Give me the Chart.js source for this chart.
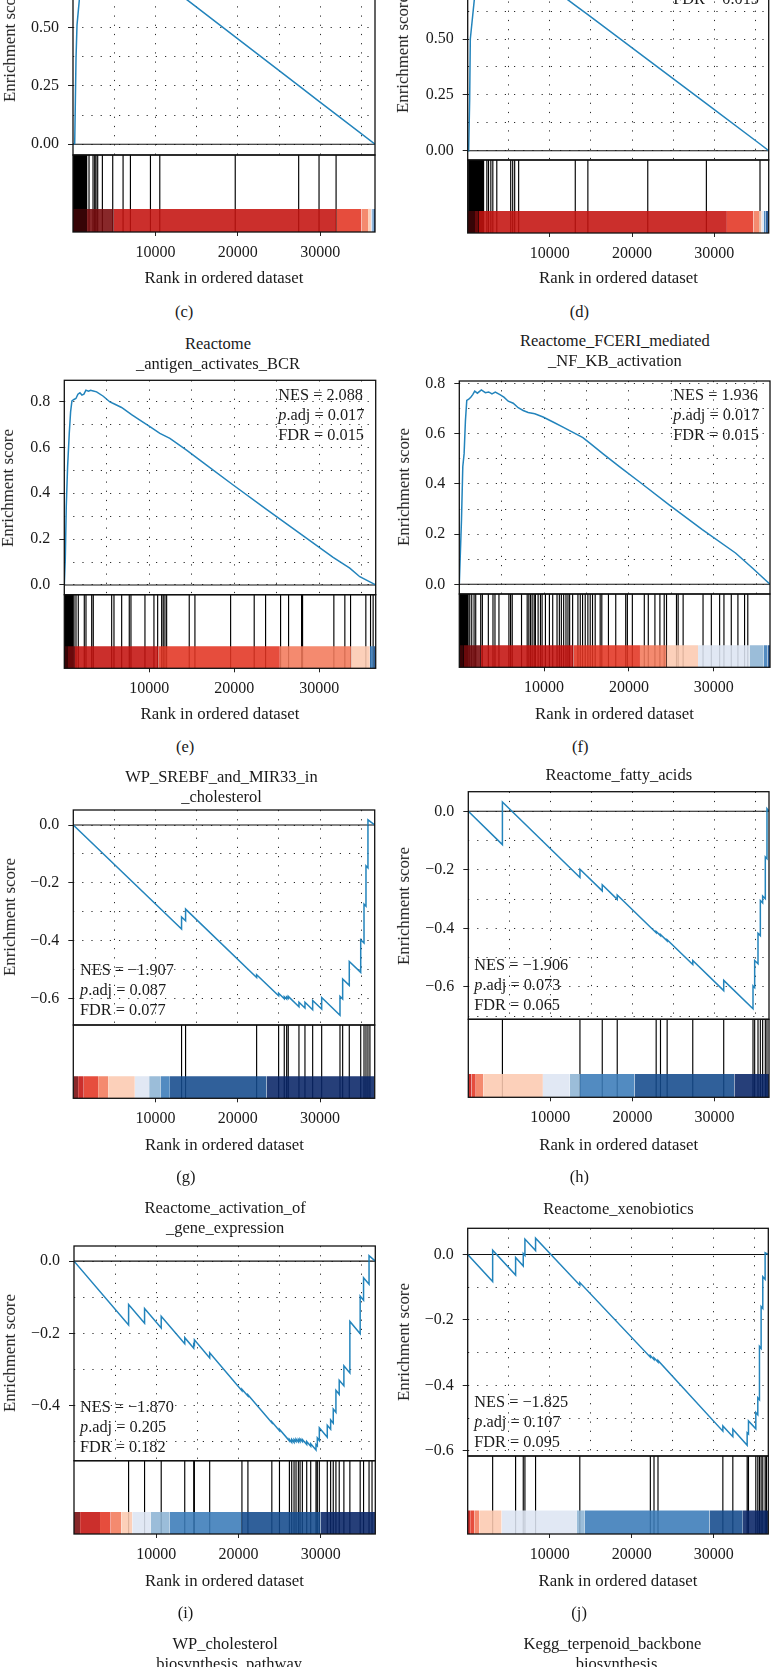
<!DOCTYPE html>
<html><head><meta charset="utf-8">
<script src="https://cdn.jsdelivr.net/npm/chart.js@4.4.1/dist/chart.umd.min.js"></script>
<style>
html,body{margin:0;padding:0;background:#fff;}
#page{position:relative;width:772px;height:1667px;overflow:hidden;background:#fff;font-family:'Liberation Serif','Times New Roman',serif;color:#1a1a1a;}
#page canvas{position:absolute;}
.t{position:absolute;white-space:nowrap;line-height:20px;}
</style></head><body><div id="page"></div>
<script>
const N_GENES = 36640;

// ---------- data: running enrichment score (rank, ES) ----------
const ES_C_X = [0,207,365,486,765,1100,1700,2430,3000,3564,4820,6075,6966,9396,10530,19683,27380,29850,31918,36640];
const ES_C_Y = [0,0.003,0.367,0.51,0.617,0.70,0.78,0.83,0.845,0.855,0.863,0.829,0.805,0.739,0.708,0.460,0.251,0.184,0.128,0];
const ES_D_X = [0,117,238,318,802,1300,1935,2800,3542,4500,5700,6202,13094,14628,21919,29053,35581,36640];
const ES_D_Y = [0,0,0.227,0.5,0.675,0.74,0.79,0.80,0.815,0.80,0.825,0.841,0.651,0.609,0.408,0.211,0.030,0];
const ES_E_X = [0,114,231,388,584,741,898,1133,1368,1603,1838,2074,2309,2544,2858,3093,3407,3799,4583,5367,5955,6739,7915,8895,10071,11247,12423,14383,16735,19871,23791,27711,31631,33591,34767,36640];
const ES_E_Y = [0,0.109,0.341,0.515,0.661,0.755,0.803,0.809,0.813,0.832,0.838,0.828,0.832,0.849,0.845,0.849,0.846,0.842,0.823,0.798,0.788,0.774,0.743,0.719,0.690,0.661,0.639,0.588,0.523,0.436,0.330,0.225,0.120,0.073,0.036,0];
const ES_F_X = [0,258,411,568,724,881,1115,1350,1585,1819,2132,2602,3072,3463,3854,4245,4793,5262,5771,6358,6945,7532,8119,8902,9880,11054,12228,13402,14576,15358,16923,18880,21226,24748,28660,32573,34529,36640];
const ES_F_Y = [0,0.257,0.469,0.521,0.653,0.733,0.738,0.746,0.756,0.770,0.762,0.775,0.764,0.767,0.759,0.766,0.756,0.746,0.730,0.722,0.704,0.693,0.685,0.680,0.667,0.647,0.627,0.606,0.585,0.564,0.521,0.469,0.409,0.317,0.218,0.125,0.066,0];
const ES_G_X = [0,13160,13160,13650,13650,22286,22286,24960,24960,25645,25645,25937,25937,26131,26131,27432,27432,28162,28162,29099,29099,30194,30194,32420,32420,32745,32745,33550,33550,34940,34940,35340,35340,35580,35580,35820,35820,36640];
const ES_G_Y = [0,-0.360,-0.318,-0.331,-0.291,-0.528,-0.518,-0.591,-0.582,-0.601,-0.594,-0.602,-0.595,-0.600,-0.593,-0.629,-0.613,-0.633,-0.613,-0.639,-0.607,-0.637,-0.597,-0.658,-0.593,-0.602,-0.533,-0.555,-0.472,-0.510,-0.397,-0.408,-0.274,-0.281,-0.141,-0.148,0.018,0];
const ES_H_X = [0,4156,4156,13604,13604,16322,16322,18147,18147,22891,22891,23418,23418,24229,24229,27351,27351,31122,31122,34691,34691,34894,34894,35300,35300,35584,35584,35867,35867,36191,36191,36394,36394,36640];
const ES_H_Y = [0,-0.114,0.032,-0.226,-0.198,-0.272,-0.251,-0.301,-0.286,-0.415,-0.411,-0.425,-0.421,-0.443,-0.439,-0.524,-0.510,-0.613,-0.578,-0.675,-0.597,-0.603,-0.510,-0.521,-0.417,-0.425,-0.305,-0.313,-0.290,-0.299,-0.156,-0.162,0.009,0];
const ES_I_X = [0,6640,6640,8581,8581,10605,10605,13467,13467,14557,14557,14641,14641,16500,16500,20422,20422,21150,21150,24058,24058,24986,24986,26193,26193,26476,26476,26758,26758,27000,27000,27285,27285,27488,27488,27770,27770,28300,28300,28785,28785,29429,29429,29590,29590,29833,29833,30800,30800,31208,31208,31527,31527,31852,31852,32252,32252,32820,32820,33548,33548,34800,34800,35212,35212,35879,35879,36640];
const ES_I_Y = [0,-0.177,-0.120,-0.172,-0.131,-0.185,-0.153,-0.229,-0.212,-0.241,-0.230,-0.232,-0.218,-0.268,-0.254,-0.359,-0.355,-0.374,-0.370,-0.448,-0.445,-0.470,-0.466,-0.498,-0.494,-0.502,-0.494,-0.502,-0.494,-0.500,-0.493,-0.501,-0.494,-0.500,-0.493,-0.500,-0.494,-0.508,-0.500,-0.513,-0.506,-0.523,-0.508,-0.512,-0.490,-0.497,-0.462,-0.488,-0.455,-0.466,-0.440,-0.449,-0.410,-0.419,-0.358,-0.369,-0.330,-0.345,-0.290,-0.310,-0.167,-0.201,-0.097,-0.108,-0.046,-0.064,0.015,0];
const ES_J_X = [0,3041,3041,5839,5839,6772,6772,6975,6975,8272,8272,13665,13665,22262,22262,22708,22708,23195,23195,31101,31101,32317,32317,34062,34062,34224,34224,35117,35117,35360,35360,35563,35563,35765,35765,35968,35968,36252,36252,36640];
const ES_J_Y = [0,-0.083,0.013,-0.063,-0.009,-0.035,0.003,-0.003,0.047,0.012,0.050,-0.094,-0.086,-0.314,-0.309,-0.321,-0.316,-0.329,-0.324,-0.540,-0.524,-0.557,-0.534,-0.583,-0.545,-0.549,-0.509,-0.533,-0.483,-0.490,-0.438,-0.444,-0.281,-0.287,-0.159,-0.165,-0.068,-0.076,0.005,0];

// ---------- data: gene-set hit ranks (rug) ----------
const HITS_C = [60,140,220,300,380,460,540,620,700,780,860,940,1020,1100,1180,1260,1340,1420,1500,1580,1660,1944,2430,2632,2794,2997,3564,4820,6075,6966,9396,10530,19683,27380,29850,31918];
const HITS_D = [120,200,280,360,440,520,600,680,760,840,920,1000,1080,1160,1240,1320,1400,1480,1560,1640,1720,1800,1935,2333,2535,2817,3059,3542,5235,5477,5719,6202,13094,14628,21919,29053,35581];
const HITS_E = [20,90,160,230,300,370,440,510,580,650,720,790,860,930,990,1141,1376,1646,2352,2552,3222,3410,5574,5845,6750,7644,7844,9490,10548,10984,11454,11642,11842,12042,14700,15370,19569,22344,23685,25449,26389,27918,28036,31717,33010,33681,35480,36033,36338];
const HITS_F = [60,130,200,270,340,410,480,550,620,690,760,830,900,970,1040,1233,1468,1741,1937,2524,2720,3424,3972,4207,4676,5850,6046,6242,7338,8004,8199,8395,8591,8826,8981,9294,9568,9764,10155,10625,11016,11525,11799,12034,12308,12581,12816,13012,13364,13990,14264,14537,14850,15163,15437,15711,16024,16611,16807,17589,18450,19624,19820,20407,21816,22286,23069,23656,24164,24438,25612,25808,26395,28743,29722,30700,31209,32074,32857,33640,34021];
const HITS_G = [13160,13650,22286,24960,25645,25937,26131,27432,28162,29099,30194,32420,32745,33550,34940,35340,35580,35820,36060];
const HITS_H = [4156,13604,16322,18147,22891,23418,24229,27351,31122,34691,34894,35300,35584,35867,36191,36394];
const HITS_I = [6640,8581,10605,13467,14557,14641,16500,20422,21150,24058,24986,26193,26476,26758,27000,27285,27488,27770,28300,28785,29429,29590,29833,30800,31208,31527,31852,32252,32820,33548,34800,35212,35879,36242];
const HITS_J = [3041,5839,6772,6975,8272,13665,22262,22708,23195,31101,32317,34062,34224,35117,35360,35563,35765,35968,36252,36414];

// ---------- data: ranked-list colour bar (bin edges and level index) ----------
const BAR_C_EDGES = [0,1700,4950,31950,35000,35800,36150,36300,36500,36640];
const BAR_C_LEVELS = [0,1,2,3,4,5,6,8,9];
const BAR_D_EDGES = [0,800,1330,31555,34777,35460,35780,36020,36270,36640];
const BAR_D_LEVELS = [0,1,2,3,4,5,6,8,9];
const BAR_E_EDGES = [0,350,1258,11057,25366,33797,35950,36420,36640];
const BAR_E_LEVELS = [0,1,2,3,4,5,8,9];
const BAR_F_EDGES = [0,500,2524,13482,21308,24438,28152,34221,35901,36350,36640];
const BAR_F_LEVELS = [0,1,2,3,4,5,6,7,8,9];
const BAR_G_EDGES = [0,584,1277,3017,4234,7481,9221,10644,11739,23500,36640];
const BAR_G_LEVELS = [1,2,3,4,5,6,7,8,9,10];
const BAR_H_EDGES = [0,400,912,1845,9088,12347,13604,20255,32420,36640];
const BAR_H_LEVELS = [2,3,4,5,6,7,8,9,10];
const BAR_I_EDGES = [0,740,3163,4460,5757,7090,9308,11648,20337,29993,36640];
const BAR_I_LEVELS = [1,2,3,4,5,6,7,8,9,10];
const BAR_J_EDGES = [0,300,800,1400,4136,13260,14273,29480,33530,36640];
const BAR_J_LEVELS = [2,3,4,5,6,7,8,9,10];

// ---------- tick labels ----------
const X_TICKS = [10000,20000,30000];
const X_TICK_LABELS = ['10000','20000','30000'];
const X_GRID = [5000,10000,15000,20000,25000,30000,35000];
const Y_TICKS_Q = [0,0.25,0.5,0.75];
const Y_LABELS_Q = ['0.00','0.25','0.50','0.75'];
const Y_TICKS_P = [0,0.2,0.4,0.6,0.8];
const Y_LABELS_P = ['0.0','0.2','0.4','0.6','0.8'];
const Y_TICKS_N6 = [0,-0.2,-0.4,-0.6];
const Y_LABELS_N6 = ['0.0','\u22120.2','\u22120.4','\u22120.6'];
const Y_TICKS_N4 = [0,-0.2,-0.4];
const Y_LABELS_N4 = ['0.0','\u22120.2','\u22120.4'];

// ---------- statistics text ----------
const STAT_PANELS = ['d','e','f','g','h','i','j'];
const NES_VALUES = [null,'2.088','1.936','\u22121.907','\u22121.906','\u22121.870','\u22121.825'];
const PADJ_VALUES = [null,'0.017','0.017','0.087','0.073','0.205','0.107'];
const FDR_VALUES = ['0.015','0.015','0.015','0.077','0.065','0.182','0.095'];

const TITLE_LINES = {
  e:['Reactome','_antigen_activates_BCR'],
  f:['Reactome_FCERI_mediated','_NF_KB_activation'],
  g:['WP_SREBF_and_MIR33_in','_cholesterol'],
  h:['Reactome_fatty_acids'],
  i:['Reactome_activation_of','_gene_expression'],
  j:['Reactome_xenobiotics'],
  k:['WP_cholesterol','_biosynthesis_pathway'],
  l:['Kegg_terpenoid_backbone','_biosynthesis']
};

// ---------- style ----------
const PAL = ['#3D0407','#780A0D','#C4120F','#E33422','#F37A5B','#FCC9B1','#DDE5F3','#8DB4D4','#3A7BB8','#134A8C','#082466'];
const ES_COLOR = '#2384BC';
const GRID_COLOR = 'rgba(20,20,20,0.9)';
const FONT = "'Liberation Serif', 'Times New Roman', serif";

// ---------- layout (pixel positions) ----------
const LAYOUT = {
  c:{box:[73,-67.3,375,155], cb:232, yMin:-0.046, yMax:0.906, minor:0.125, yt:Y_TICKS_Q, yl:Y_LABELS_Q, yTitle:[10,43], xTitle:[224,278], label:[184,312], title:null, stat:null},
  d:{box:[467.7,-44.5,768.7,160], cb:233, yMin:-0.0416, yMax:0.874, minor:0.125, yt:Y_TICKS_Q, yl:Y_LABELS_Q, yTitle:[402.7,53.5], xTitle:[618.5,278], label:[579.3,312], title:null, stat:[673.3,-41]},
  e:{box:[64.3,380.3,375.7,594.7], cb:668.3, yMin:-0.0425, yMax:0.8925, minor:0.1, yt:Y_TICKS_P, yl:Y_LABELS_P, yTitle:[8.3,488], xTitle:[220,714], label:[185,747], title:[218,344], stat:[278.3,395]},
  f:{box:[459.3,381,770,594], cb:667.3, yMin:-0.0386, yMax:0.8106, minor:0.1, yt:Y_TICKS_P, yl:Y_LABELS_P, yTitle:[404.3,487], xTitle:[614.5,714], label:[580,747], title:[615,340.7], stat:[673.3,395]},
  g:{box:[73.3,810,374.7,1025], cb:1098.3, yMin:-0.692, yMax:0.052, minor:0.1, yt:Y_TICKS_N6, yl:Y_LABELS_N6, yTitle:[10,917], xTitle:[224.5,1145], label:[185.7,1177.3], title:[221.7,776.7], stat:[80,970]},
  h:{box:[468.3,791.7,769,1019.3], cb:1097.3, yMin:-0.711, yMax:0.067, minor:0.1, yt:Y_TICKS_N6, yl:Y_LABELS_N6, yTitle:[404.3,905.5], xTitle:[618.7,1145], label:[579.3,1177.3], title:[619,775], stat:[474.3,965]},
  i:{box:[74,1246,375.3,1460.7], cb:1534, yMin:-0.553, yMax:0.042, minor:0.1, yt:Y_TICKS_N4, yl:Y_LABELS_N4, yTitle:[10,1353.3], xTitle:[224.5,1580.7], label:[185.7,1613.3], title:[225,1208.3], stat:[80,1406.7]},
  j:{box:[467.7,1228.3,768.3,1456], cb:1534, yMin:-0.616, yMax:0.080, minor:0.1, yt:Y_TICKS_N6, yl:Y_LABELS_N6, yTitle:[404.3,1342.2], xTitle:[618,1580.7], label:[579.3,1613.3], title:[618.3,1209], stat:[474.3,1401.7]},
  k:{title:[225,1644]},
  l:{title:[612.5,1644]}
};

const PANEL_DATA = {
  c:[ES_C_X,ES_C_Y,HITS_C,BAR_C_EDGES,BAR_C_LEVELS],
  d:[ES_D_X,ES_D_Y,HITS_D,BAR_D_EDGES,BAR_D_LEVELS],
  e:[ES_E_X,ES_E_Y,HITS_E,BAR_E_EDGES,BAR_E_LEVELS],
  f:[ES_F_X,ES_F_Y,HITS_F,BAR_F_EDGES,BAR_F_LEVELS],
  g:[ES_G_X,ES_G_Y,HITS_G,BAR_G_EDGES,BAR_G_LEVELS],
  h:[ES_H_X,ES_H_Y,HITS_H,BAR_H_EDGES,BAR_H_LEVELS],
  i:[ES_I_X,ES_I_Y,HITS_I,BAR_I_EDGES,BAR_I_LEVELS],
  j:[ES_J_X,ES_J_Y,HITS_J,BAR_J_EDGES,BAR_J_LEVELS]
};

const page = document.getElementById('page');
const CB_FRAC = 0.3;

const framePlugin = {
  id:'frame',
  afterDatasetsDraw(chart){
    const {ctx, chartArea:a} = chart;
    ctx.save();
    ctx.strokeStyle = '#111';
    ctx.lineWidth = 1.3;
    ctx.strokeRect(a.left, a.top, a.right - a.left, a.bottom - a.top);
    ctx.restore();
  }
};

function rgba(hex, a){
  const n = parseInt(hex.slice(1),16);
  return `rgba(${(n>>16)&255},${(n>>8)&255},${n&255},${a})`;
}

function mkCanvas(left, top, w, h){
  const cv = document.createElement('canvas');
  cv.width = w; cv.height = h;
  cv.style.left = left + 'px'; cv.style.top = top + 'px';
  cv.style.width = w + 'px'; cv.style.height = h + 'px';
  page.appendChild(cv);
  return cv;
}

function makeES(id){
  const L = LAYOUT[id];
  const [esX, esY] = PANEL_DATA[id];
  const [l, t, r, b] = L.box;
  const yW = 62, pv = 24, pr = 4;
  const cl = Math.floor(l - yW), ct = Math.floor(t - pv);
  const cw = Math.ceil(r + pr) - cl, ch = Math.ceil(b + pv) - ct;
  const cv = mkCanvas(cl, ct, cw, ch);
  const minor = [];
  for (let k = Math.ceil(L.yMin / L.minor); k * L.minor <= L.yMax + 1e-9; k++) minor.push(+(k * L.minor).toFixed(4));
  new Chart(cv, {
    type:'line',
    data:{datasets:[
      {data: esX.map((x,i)=>({x, y:esY[i]})), borderColor:ES_COLOR, borderWidth:1.5, pointRadius:0, tension:0, order:0},
      {data:[{x:0,y:0},{x:N_GENES,y:0}], borderColor:'#111', borderWidth:1.1, pointRadius:0, order:1}
    ]},
    options:{
      responsive:false, animation:false, devicePixelRatio:1,
      layout:{padding:{left:(l - yW) - cl, top:t - ct, right:(cl + cw) - r, bottom:(ct + ch) - b}},
      plugins:{legend:{display:false}, tooltip:{enabled:false}},
      scales:{
        x:{type:'linear', min:0, max:N_GENES,
           afterBuildTicks:s=>{s.ticks = X_GRID.map(v=>({value:v}));},
           ticks:{display:false}, grid:{color:GRID_COLOR, lineWidth:1, drawTicks:false},
           border:{display:false, dash:[1.2,8]}, afterFit:s=>{s.height = 0;}},
        y:{type:'linear', position:'left', min:L.yMin, max:L.yMax,
           afterBuildTicks:s=>{s.ticks = L.yt.map(v=>({value:v}));},
           ticks:{autoSkip:false, callback:(v,i)=>L.yl[i], font:{family:FONT, size:16}, color:'#1a1a1a', padding:9},
           grid:{drawOnChartArea:false, drawTicks:true, tickLength:5, tickColor:'#222', tickWidth:1},
           border:{display:false}, afterFit:s=>{s.width = yW;}},
        ym:{type:'linear', position:'left', min:L.yMin, max:L.yMax,
           afterBuildTicks:s=>{s.ticks = minor.map(v=>({value:v}));},
           ticks:{display:false}, grid:{color:GRID_COLOR, lineWidth:1, drawTicks:false},
           border:{display:false, dash:[1.2,8]}, afterFit:s=>{s.width = 0;}}
      }
    },
    plugins:[framePlugin]
  });
}

function makeRug(id){
  const L = LAYOUT[id];
  const [, , hits, edges, levels] = PANEL_DATA[id];
  const [l, , r, b] = L.box;
  const cbBottom = L.cb;
  const axisH = 34, ph = 3;
  const cl = Math.floor(l - ph), ct = Math.floor(b - ph);
  const cw = Math.ceil(r + ph) - cl;
  const ch = Math.ceil(cbBottom + axisH) - ct;
  const cv = mkCanvas(cl, ct, cw, ch);
  const datasets = [];
  for (let i = 0; i < levels.length; i++){
    datasets.push({data:[{x:edges[i], y:CB_FRAC},{x:edges[i+1], y:CB_FRAC}],
      borderColor:'rgba(0,0,0,0)', borderWidth:0, pointRadius:0,
      backgroundColor:rgba(PAL[levels[i]],0.88), fill:{value:0}, order:0});
  }
  datasets.push({data:hits.flatMap(h=>[{x:h,y:0},{x:h,y:1},{x:h,y:null}]),
    borderColor:'#000', borderWidth:1.15, pointRadius:0, spanGaps:false, fill:false, order:1});
  new Chart(cv, {
    type:'line',
    data:{datasets},
    options:{
      responsive:false, animation:false, devicePixelRatio:1,
      layout:{padding:{left:l - cl, top:b - ct, right:(cl + cw) - r, bottom:(ct + ch) - cbBottom - axisH}},
      plugins:{legend:{display:false}, tooltip:{enabled:false}},
      scales:{
        x:{type:'linear', min:0, max:N_GENES,
           afterBuildTicks:s=>{s.ticks = X_TICKS.map(v=>({value:v}));},
           ticks:{autoSkip:false, maxRotation:0, callback:(v,i)=>X_TICK_LABELS[i], font:{family:FONT, size:16}, color:'#1a1a1a', padding:7},
           grid:{drawOnChartArea:false, drawTicks:true, tickLength:4, tickColor:'#222', tickWidth:1},
           border:{display:false}, afterFit:s=>{s.height = axisH;}},
        y:{display:false, min:0, max:1}
      }
    },
    plugins:[framePlugin]
  });
}

function addText(html, x, y, align, size, rot){
  const d = document.createElement('div');
  d.className = 't';
  d.innerHTML = html;
  d.style.fontSize = size + 'px';
  page.appendChild(d);
  const w = d.offsetWidth, h = d.offsetHeight;
  d.style.left = (align === 'left' ? x : x - w/2) + 'px';
  d.style.top = (y - h/2) + 'px';
  if (rot) d.style.transform = 'rotate(-90deg)';
}

['c','d','e','f','g','h','i','j'].forEach(id=>{
  makeES(id);
  makeRug(id);
  const L = LAYOUT[id];
  addText('Enrichment score', L.yTitle[0], L.yTitle[1], 'center', 16.8, true);
  addText('Rank in ordered dataset', L.xTitle[0], L.xTitle[1], 'center', 16.8, false);
  addText('(' + id + ')', L.label[0], L.label[1], 'center', 16.5, false);
});

Object.keys(TITLE_LINES).forEach(id=>{
  const pos = LAYOUT[id].title;
  TITLE_LINES[id].forEach((line, k)=>addText(line, pos[0], pos[1] + 20*k, 'center', 16.5, false));
});

STAT_PANELS.forEach((id, k)=>{
  const [x, y] = LAYOUT[id].stat;
  if (NES_VALUES[k] !== null) addText('NES = ' + NES_VALUES[k], x, y, 'left', 16.3, false);
  if (PADJ_VALUES[k] !== null) addText('<i>p</i>.adj = ' + PADJ_VALUES[k], x, y + 20, 'left', 16.3, false);
  addText('FDR = ' + FDR_VALUES[k], x, y + 40, 'left', 16.3, false);
});
</script>
</body></html>
